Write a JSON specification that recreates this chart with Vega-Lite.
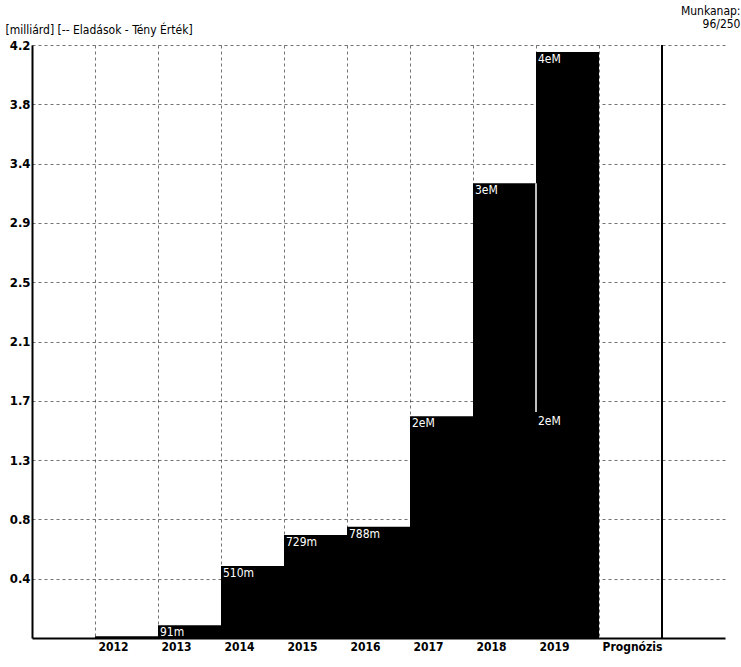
{
  "$schema": "https://vega.github.io/schema/vega-lite/v6.json",
  "autosize": "none",
  "width": 693,
  "height": 593,
  "padding": {"left": 32, "top": 45, "right": 16, "bottom": 29},
  "background": "white",
  "datasets": {
    "main": [
      {"year": "2012", "value": 0.012, "label": ""},
      {"year": "2013", "value": 0.091, "label": "91m"},
      {"year": "2014", "value": 0.51, "label": "510m"},
      {"year": "2015", "value": 0.729, "label": "729m"},
      {"year": "2016", "value": 0.788, "label": "788m"},
      {"year": "2017", "value": 1.57, "label": "2eM"},
      {"year": "2018", "value": 3.22, "label": "3eM"},
      {"year": "2019", "value": 4.15, "label": "4eM"}
    ],
    "ytd": [
      {"year": "2019", "low": 1.6, "high": 3.22, "label": "2eM"}
    ],
    "sep": [
      {"year": "Prognózis"}
    ]
  },
  "layer": [
    {
      "data": {"name": "main"},
      "mark": {"type": "bar", "color": "#000"},
      "encoding": {
        "x": {
          "field": "year",
          "type": "nominal",
          "scale": {
            "domain": ["b0", "2012", "2013", "2014", "2015", "2016", "2017", "2018", "2019", "Prognózis", "b1"],
            "paddingInner": 0,
            "paddingOuter": 0
          },
          "axis": {
            "bandPosition": 0,
            "labelAlign": "left",
            "labelBaseline": "top",
            "labelOffset": -28,
            "labelPadding": 3,
            "labelAngle": 0,
            "labelExpr": "datum.value == 'b0' || datum.value == 'b1' ? '' : datum.value",
            "ticks": false,
            "domainColor": "#000",
            "domainWidth": 2,
            "grid": true,
            "gridColor": "#000",
            "gridDash": [3, 3],
            "gridOpacity": 0.55,
            "labelFont": "DejaVu Sans Condensed, Liberation Sans, sans-serif",
            "labelFontSize": 12,
            "labelFontWeight": "bold",
            "labelColor": "#000",
            "title": ["Munkanap:", "96/250"],
            "titleFont": "DejaVu Sans Condensed, Liberation Sans, sans-serif",
            "titleFontSize": 12,
            "titleFontWeight": "normal",
            "titleColor": "#000",
            "titleAlign": "right",
            "titleBaseline": "top",
            "titleLineHeight": 13,
            "titleX": 708,
            "titleY": -633
          }
        },
        "y": {
          "field": "value",
          "type": "quantitative",
          "scale": {"domain": [0, 4.2], "nice": false, "zero": true},
          "axis": {
            "values": [0.42, 0.84, 1.26, 1.68, 2.1, 2.52, 2.94, 3.36, 3.78, 4.2],
            "format": ".1f",
            "ticks": false,
            "labelPadding": 2,
            "labelFont": "DejaVu Sans Condensed, Liberation Sans, sans-serif",
            "labelFontSize": 13,
            "labelFontWeight": "bold",
            "labelColor": "#000",
            "domainColor": "#000",
            "domainWidth": 2,
            "grid": true,
            "gridColor": "#000",
            "gridDash": [3, 3],
            "gridOpacity": 0.55,
            "title": "[milliárd]   [-- Eladások - Tény Érték]",
            "titleFont": "DejaVu Sans Condensed, Liberation Sans, sans-serif",
            "titleFontSize": 12,
            "titleFontWeight": "normal",
            "titleColor": "#000",
            "titleAngle": 0,
            "titleAlign": "left",
            "titleBaseline": "bottom",
            "titleX": -27,
            "titleY": -9
          }
        }
      }
    },
    {
      "data": {"name": "ytd"},
      "mark": {"type": "rule", "color": "white", "strokeWidth": 1.5},
      "encoding": {
        "x": {"field": "year", "type": "nominal", "bandPosition": 0},
        "y": {"field": "low", "type": "quantitative"},
        "y2": {"field": "high"}
      }
    },
    {
      "data": {"name": "main"},
      "mark": {"type": "text", "color": "white", "align": "left", "baseline": "top", "dx": 2, "dy": 2, "font": "DejaVu Sans Condensed, Liberation Sans, sans-serif", "fontSize": 12},
      "encoding": {
        "x": {"field": "year", "type": "nominal", "bandPosition": 0},
        "y": {"field": "value", "type": "quantitative"},
        "text": {"field": "label"}
      }
    },
    {
      "data": {"name": "ytd"},
      "mark": {"type": "text", "color": "white", "align": "left", "baseline": "top", "dx": 2, "dy": 4, "font": "DejaVu Sans Condensed, Liberation Sans, sans-serif", "fontSize": 12},
      "encoding": {
        "x": {"field": "year", "type": "nominal", "bandPosition": 0},
        "y": {"field": "low", "type": "quantitative"},
        "text": {"field": "label"}
      }
    },
    {
      "data": {"name": "sep"},
      "mark": {"type": "rule", "color": "#000", "strokeWidth": 2},
      "encoding": {
        "x": {"field": "year", "type": "nominal", "bandPosition": 1}
      }
    }
  ],
  "config": {
    "view": {"stroke": null}
  }
}
